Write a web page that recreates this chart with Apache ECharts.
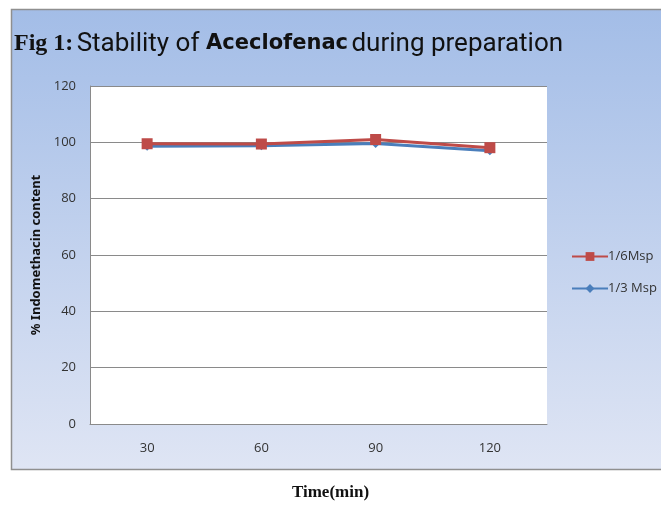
<!DOCTYPE html>
<html>
<head>
<meta charset="utf-8">
<script src="https://cdn.jsdelivr.net/npm/echarts@6/dist/echarts.min.js"></script>
<style>
  html, body { margin: 0; padding: 0; background: #fff; }
  #chart { width: 661px; height: 506px; }
</style>
</head>
<body>
<div id="chart"></div>
<script>
const categories = ['30', '60', '90', '120']
const sixthMsp = [99.5, 99.4, 101, 98.1]
const thirdMsp = [98.6, 98.8, 99.6, 97.0]
const seriesNames = ['1/6Msp', '1/3 Msp']

const chart = echarts.init(document.getElementById('chart'))

chart.setOption({
  animation: false,
  backgroundColor: '#ffffff',
  graphic: [
    {
      type: 'rect',
      z: -10,
      shape: { x: 11.5, y: 9.5, width: 660, height: 460 },
      style: {
        fill: new echarts.graphic.LinearGradient(0, 0, 0, 1, [
          { offset: 0, color: '#a3bde7' },
          { offset: 1, color: '#dfe5f4' }
        ]),
        stroke: '#8f8f8f',
        lineWidth: 1.5
      }
    },
    {
      type: 'text',
      left: 14,
      top: 31,
      style: {
        text: '{fig|Fig 1:} {sans|Stability of}  {drug|Aceclofenac} {sans|during preparation}',
        rich: {
          fig: { fontFamily: 'Liberation Serif', fontWeight: 'bold', fontSize: 24, fill: '#111' },
          sans: { fontFamily: 'Roboto', fontSize: 26, fill: '#111' },
          drug: { fontFamily: 'DejaVu Sans', fontWeight: 'bold', fontSize: 21, fill: '#111' }
        }
      }
    },
    {
      type: 'text',
      left: 'center',
      top: 484,
      style: {
        text: 'Time(min)',
        fontFamily: 'Liberation Serif',
        fontWeight: 'bold',
        fontSize: 17,
        fill: '#111'
      }
    }
  ],
  grid: {
    left: 90,
    top: 86,
    width: 457,
    height: 338,
    show: true,
    backgroundColor: '#ffffff',
    borderWidth: 0
  },
  legend: {
    data: seriesNames,
    orient: 'vertical',
    left: 566,
    top: 245,
    itemWidth: 36,
    itemHeight: 11,
    itemGap: 19,
    textStyle: { fontFamily: 'Open Sans', fontSize: 13, color: '#333', padding: [0, 0, 0, -5] }
  },
  xAxis: {
    type: 'category',
    data: categories,
    boundaryGap: true,
    axisLine: { lineStyle: { color: '#8a8a8a', width: 1 } },
    axisTick: { show: false },
    axisLabel: { fontFamily: 'Open Sans', fontSize: 13, color: '#333', margin: 18 }
  },
  yAxis: {
    type: 'value',
    min: 0,
    max: 120,
    interval: 20,
    name: '% Indomethacin content',
    nameLocation: 'middle',
    nameGap: 45,
    nameTextStyle: { fontFamily: 'Noto Sans', fontWeight: 'bold', fontSize: 13, color: '#111' },
    axisLine: { show: true, lineStyle: { color: '#8a8a8a', width: 1 } },
    axisTick: { show: false },
    splitLine: { lineStyle: { color: '#8a8a8a', width: 1 } },
    axisLabel: { fontFamily: 'Open Sans', fontSize: 13, color: '#333', margin: 14 }
  },
  series: [
    {
      name: seriesNames[1],
      type: 'line',
      data: thirdMsp,
      symbol: 'diamond',
      symbolSize: 9,
      z: 2,
      lineStyle: { color: '#4a7ebb', width: 3 },
      itemStyle: { color: '#4a7ebb' }
    },
    {
      name: seriesNames[0],
      type: 'line',
      data: sixthMsp,
      symbol: 'rect',
      symbolSize: 11,
      z: 3,
      lineStyle: { color: '#be4b48', width: 3 },
      itemStyle: { color: '#be4b48' }
    }
  ]
})
</script>
</body>
</html>
